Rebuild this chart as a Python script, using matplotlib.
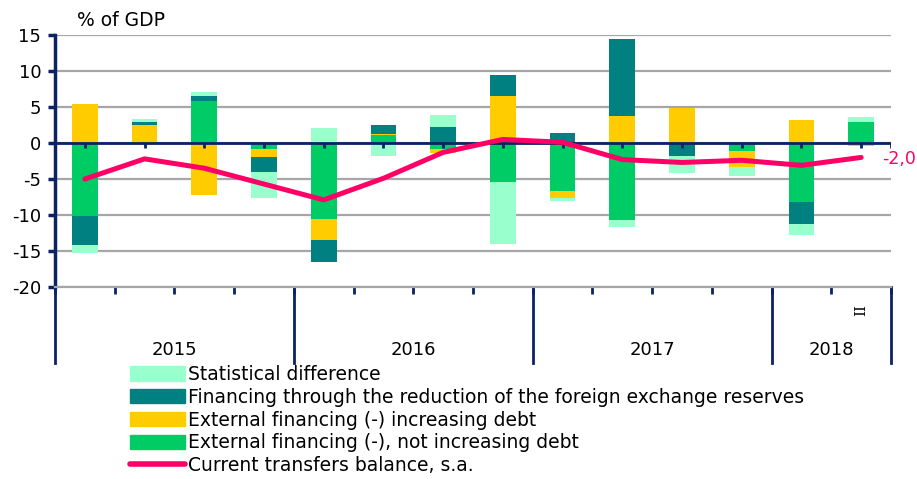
#!/usr/bin/env python3
import numpy as np
import matplotlib
matplotlib.use("Agg")
import matplotlib.pyplot as plt
from matplotlib.patches import Patch
from matplotlib.lines import Line2D
from matplotlib.transforms import blended_transform_factory

# quarters 2015 Q1 .. 2018 Q2
years = ["2015", "2016", "2017", "2018"]
quarters_per_year = [4, 4, 4, 2]
last_quarter_label = "II"

not_increasing_debt = [-10.2, 0.0, 5.9, -0.9, -10.55, 1.05, -0.85, -5.45,
                       -6.65, -10.75, 0.0, -1.15, -8.2, 2.9]
increasing_debt = [5.4, 2.45, -7.2, -1.0, -2.95, 0.15, -0.55, 6.55,
                   -1.05, 3.7, 4.8, -2.25, 3.25, -0.45]
fx_reserves = [-3.9, 0.45, 0.65, -2.1, -3.0, 1.3, 2.2, 2.85,
               1.45, 10.75, -1.8, 0.0, -3.05, 0.0]
stat_difference = [-1.2, 0.5, 0.6, -3.7, 2.1, -1.75, 1.75, -8.6,
                   -0.4, -0.85, -2.3, -1.15, -1.55, 0.7]
transfers_balance = [-5.0, -2.2, -3.5, -5.7, -7.9, -4.9, -1.3, 0.5,
                     0.1, -2.3, -2.7, -2.4, -3.1, -2.0]

series = [
    ("External financing (-), not increasing debt", not_increasing_debt, "#00CC66"),
    ("External financing (-) increasing debt", increasing_debt, "#FFCC00"),
    ("Financing through the reduction of the foreign exchange reserves", fx_reserves, "#008080"),
    ("Statistical difference", stat_difference, "#99FFCC"),
]
LINE_LABEL = "Current transfers balance, s.a."
LINE_COLOR = "#FF0066"
NAVY = "#0B2265"
GRID = "#A6A6A6"

plt.rcParams["font.family"] = ["DejaVu Sans"]
plt.rcParams["axes.unicode_minus"] = False

fig = plt.figure(figsize=(9.17, 4.79), dpi=100)
ax = fig.add_axes([0.060, 0.4008, 0.9117, 0.5261])

n = len(transfers_balance)
x = np.arange(n)
pos_bottom = np.zeros(n)
neg_bottom = np.zeros(n)
for label, vals, color in series:
    v = np.array(vals)
    bottom = np.where(v >= 0, pos_bottom, neg_bottom)
    ax.bar(x, v, 0.43, bottom=bottom, color=color, zorder=2)
    pos_bottom += np.where(v >= 0, v, 0)
    neg_bottom += np.where(v < 0, v, 0)

# zero axis with ticks at category centres
ax.axhline(0, color=NAVY, lw=2, zorder=3)
ax.vlines(list(x) + [n - 0.5], -0.75, 0, color=NAVY, lw=2, zorder=3)

ax.plot(x, transfers_balance, color=LINE_COLOR, lw=3.6, zorder=4,
        solid_capstyle="round", solid_joinstyle="round")
ax.annotate("-2,0", (x[-1], transfers_balance[-1]), xytext=(15, -1.5),
            textcoords="offset points", color=LINE_COLOR, fontsize=12.5,
            va="center", ha="left", annotation_clip=False)

ax.set_xlim(-0.5, n - 0.5)
ax.set_ylim(-20, 15)
ax.set_yticks(np.arange(-20, 16, 5))
ax.yaxis.grid(True, color=GRID, lw=1.6, zorder=0)
ax.set_axisbelow(True)
ax.tick_params(axis="y", labelsize=13, color=NAVY, width=2.5, length=5,
               direction="out", pad=5)

for s in ["top", "right"]:
    ax.spines[s].set_visible(False)
ax.spines["left"].set_color(NAVY)
ax.spines["left"].set_linewidth(2.5)
ax.spines["bottom"].set_color(GRID)
ax.spines["bottom"].set_linewidth(1.6)

ax.set_xticks(np.arange(-0.5, n, 1.0))
ax.set_xticklabels([])
ax.tick_params(axis="x", color=NAVY, width=2, length=5, direction="out")

# year separators and labels below the axis
tr = blended_transform_factory(ax.transData, ax.transAxes)
edges = np.concatenate([[0], np.cumsum(quarters_per_year)]) - 0.5
for e in edges:
    ax.plot([e, e], [0, -0.3], color=NAVY, lw=2, transform=tr, clip_on=False)
for i, yr in enumerate(years):
    ax.text((edges[i] + edges[i + 1]) / 2, -0.25, yr, transform=tr,
            ha="center", va="center", fontsize=13)
ax.text(x[-1], -0.09, last_quarter_label, transform=tr, rotation=90,
        ha="center", va="center", fontsize=11, family="DejaVu Serif")

fig.text(77 / 917, 1 - 20 / 479, "% of GDP", fontsize=13.5, ha="left", va="center",
         bbox=dict(boxstyle="square,pad=0.3", fc="white", ec="none"))

handles = [Patch(color=c) for _, _, c in reversed(series)]
handles.append(Line2D([0], [0], color=LINE_COLOR, lw=4, solid_capstyle="round"))
labels = [lbl for lbl, _, _ in reversed(series)] + [LINE_LABEL]
fig.legend(handles, labels, loc="upper left", bbox_to_anchor=(130 / 917, 1 - 365 / 479),
           frameon=False, fontsize=13.5, handlelength=2.95, handleheight=0.8,
           handletextpad=0.15, labelspacing=0.2, borderpad=0, borderaxespad=0)

fig.savefig("out.png", dpi=100)
